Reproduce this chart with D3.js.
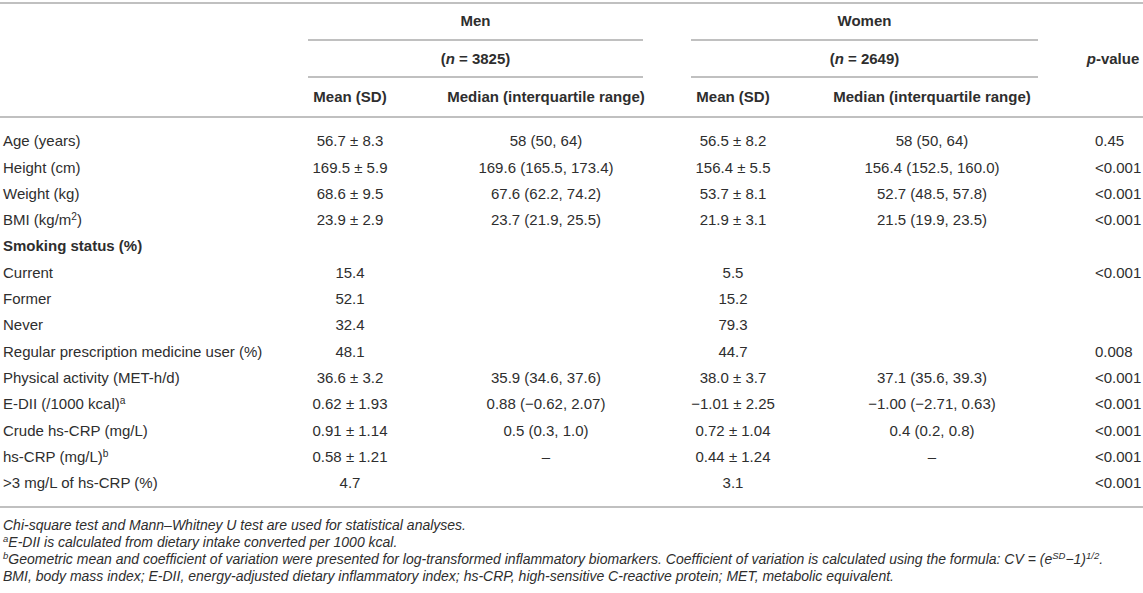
<!DOCTYPE html>
<html>
<head>
<meta charset="utf-8">
<script src="https://cdn.jsdelivr.net/npm/d3@7"></script>
<style>
  body { margin: 0; background: #fff; }
  svg { display: block; font-family: "Liberation Sans", Arial, Helvetica, sans-serif; }
</style>
</head>
<body>
<svg id="table" width="1143" height="593"></svg>
<script>
// ^x^ = superscript, *x* = italic
const rowLabels = ['Age (years)', 'Height (cm)', 'Weight (kg)', 'BMI (kg/m^2^)', 'Smoking status (%)',
  'Current', 'Former', 'Never', 'Regular prescription medicine user (%)', 'Physical activity (MET-h/d)',
  'E-DII (/1000 kcal)^a^', 'Crude hs-CRP (mg/L)', 'hs-CRP (mg/L)^b^', '>3 mg/L of hs-CRP (%)']
const boldRows = ['Smoking status (%)']

const menMean = ['56.7 ± 8.3', '169.5 ± 5.9', '68.6 ± 9.5', '23.9 ± 2.9', '', '15.4', '52.1', '32.4', '48.1',
  '36.6 ± 3.2', '0.62 ± 1.93', '0.91 ± 1.14', '0.58 ± 1.21', '4.7']
const menMedian = ['58 (50, 64)', '169.6 (165.5, 173.4)', '67.6 (62.2, 74.2)', '23.7 (21.9, 25.5)', '', '', '', '', '',
  '35.9 (34.6, 37.6)', '0.88 (−0.62, 2.07)', '0.5 (0.3, 1.0)', '–', '']
const womenMean = ['56.5 ± 8.2', '156.4 ± 5.5', '53.7 ± 8.1', '21.9 ± 3.1', '', '5.5', '15.2', '79.3', '44.7',
  '38.0 ± 3.7', '−1.01 ± 2.25', '0.72 ± 1.04', '0.44 ± 1.24', '3.1']
const womenMedian = ['58 (50, 64)', '156.4 (152.5, 160.0)', '52.7 (48.5, 57.8)', '21.5 (19.9, 23.5)', '', '', '', '', '',
  '37.1 (35.6, 39.3)', '−1.00 (−2.71, 0.63)', '0.4 (0.2, 0.8)', '–', '']
const pValues = ['0.45', '<0.001', '<0.001', '<0.001', '', '<0.001', '', '', '0.008',
  '<0.001', '<0.001', '<0.001', '<0.001', '<0.001']

const groups = ['Men', 'Women']
const groupN = ['(*n* = 3825)', '(*n* = 2649)']
const subHeads = ['Mean (SD)', 'Median (interquartile range)']
const pHead = '*p*-value'

const footnotes = [
  'Chi-square test and Mann–Whitney U test are used for statistical analyses.',
  '^a^E-DII is calculated from dietary intake converted per 1000 kcal.',
  '^b^Geometric mean and coefficient of variation were presented for log-transformed inflammatory biomarkers. Coefficient of variation is calculated using the formula: CV = (e^SD^−1)^1/2^.',
  'BMI, body mass index; E-DII, energy-adjusted dietary inflammatory index; hs-CRP, high-sensitive C-reactive protein; MET, metabolic equivalent.'
]

const textColor = '#2e2e2e'
const ruleColor = '#ababab'
const fs = 15

const svg = d3.select('#table')

const cols = ['menMean', 'menMedian', 'womenMean', 'womenMedian']
const colValues = { menMean, menMedian, womenMean, womenMedian }
const colX = d3.scaleOrdinal().domain(cols).range([350, 546, 733, 932])
const groupX = d3.scaleOrdinal().domain(groups).range([[308, 643], [691, 1038]])
const pX = { head: 1113, value: 1095 }

const headY = d3.scalePoint().domain(['group', 'n', 'sub']).range([21, 97])
const rowY = d3.scaleLinear().domain([0, rowLabels.length - 1]).range([141, 483])
const footY = d3.scaleLinear().domain([0, footnotes.length - 1]).range([525, 576])

const rules = { top: 3, groupLine: 40, nLine: 77, head: 117, bottom: 507 }

function rich(sel, str) {
  const parts = str.split(/(\^[^^]*\^|\*[^*]*\*)/).filter(s => s !== '')
  let shifted = false
  parts.forEach(p => {
    const isSup = p.length > 1 && p[0] === '^' && p[p.length - 1] === '^'
    const isIt = p.length > 1 && p[0] === '*' && p[p.length - 1] === '*'
    const t = sel.append('tspan').text(isSup || isIt ? p.slice(1, -1) : p)
    if (isSup) {
      t.attr('dy', -5).attr('font-size', '0.68em')
      shifted = true
    } else if (shifted) {
      t.attr('dy', 5)
      shifted = false
    }
    if (isIt) t.attr('font-style', 'italic')
  })
}

function label(x, y, str, anchor, opts = {}) {
  const t = svg.append('text')
    .attr('x', x)
    .attr('y', y + fs * 0.35)
    .attr('text-anchor', anchor)
    .attr('fill', textColor)
    .attr('font-size', opts.size || fs)
    .attr('font-weight', opts.bold ? 'bold' : null)
    .attr('font-style', opts.italic ? 'italic' : null)
  rich(t, str)
  return t
}

function rule(x1, x2, y) {
  svg.append('line')
    .attr('x1', x1).attr('x2', x2)
    .attr('y1', y).attr('y2', y)
    .attr('stroke', ruleColor)
    .attr('stroke-width', 1.6)
}

// rules
rule(0, 1143, rules.top)
groups.forEach(g => {
  const [a, b] = groupX(g)
  rule(a, b, rules.groupLine)
  rule(a, b, rules.nLine)
})
rule(0, 1143, rules.head)
rule(0, 1143, rules.bottom)

// header
groups.forEach((g, i) => {
  const [a, b] = groupX(g)
  label((a + b) / 2, headY('group'), g, 'middle', { bold: true })
  label((a + b) / 2, headY('n'), groupN[i], 'middle', { bold: true })
  label(colX(cols[i * 2]), headY('sub'), subHeads[0], 'middle', { bold: true })
  label(colX(cols[i * 2 + 1]), headY('sub'), subHeads[1], 'middle', { bold: true })
})
label(pX.head, headY('n'), pHead, 'middle', { bold: true })

// body
rowLabels.forEach((r, i) => {
  const y = rowY(i)
  label(3, y, r, 'start', { bold: boldRows.includes(r) })
  cols.forEach(c => {
    if (colValues[c][i]) label(colX(c), y, colValues[c][i], 'middle')
  })
  if (pValues[i]) label(pX.value, y, pValues[i], 'start')
})

// footnotes
footnotes.forEach((f, i) => {
  label(3, footY(i), f, 'start', { italic: true, size: 14 })
})
</script>
</body>
</html>
